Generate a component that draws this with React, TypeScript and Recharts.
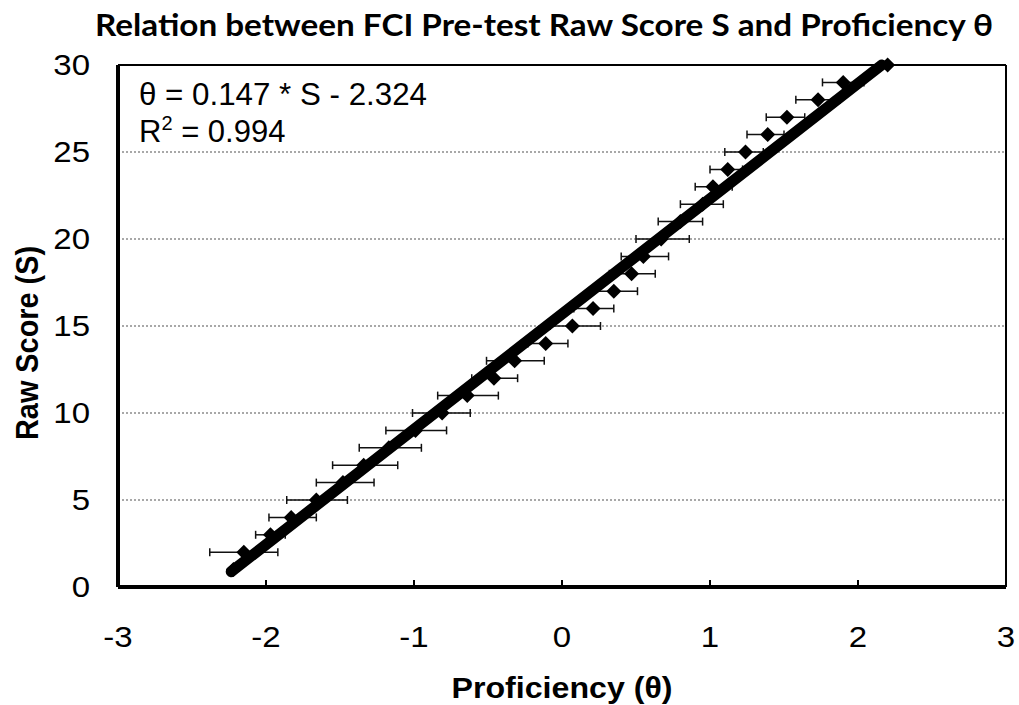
import React from 'react';
import {
  ScatterChart,
  Scatter,
  XAxis,
  YAxis,
  CartesianGrid,
  ErrorBar,
  ReferenceLine,
  Customized,
} from 'recharts';

// raw score S (y axis)
const scores = [1, 2, 3, 4, 5, 6, 7, 8, 9, 10, 11, 12, 13, 14, 15, 16, 17, 18, 19, 20, 21, 22, 23, 24, 25, 26, 27, 28, 29, 30];
// proficiency estimate for each score
const theta = [-2.22, -2.15, -1.97, -1.83, -1.66, -1.48, -1.34, -1.17, -0.99, -0.81, -0.64, -0.46, -0.32, -0.11, 0.07, 0.21, 0.35, 0.47, 0.55, 0.67, 0.8, 0.95, 1.02, 1.12, 1.24, 1.39, 1.52, 1.73, 1.9, 2.2];
// error bar ends
const thetaLow = [-2.22, -2.38, -2.07, -1.98, -1.86, -1.66, -1.55, -1.37, -1.19, -1.01, -0.84, -0.61, -0.51, -0.23, -0.08, 0.08, 0.2, 0.32, 0.4, 0.5, 0.65, 0.8, 0.9, 1.0, 1.1, 1.25, 1.38, 1.58, 1.76, 2.2];
const thetaHigh = [-2.22, -1.92, -1.87, -1.66, -1.45, -1.27, -1.11, -0.95, -0.78, -0.62, -0.43, -0.3, -0.12, 0.04, 0.26, 0.35, 0.51, 0.63, 0.72, 0.86, 0.95, 1.09, 1.15, 1.22, 1.36, 1.5, 1.64, 1.88, 2.04, 2.2];

// fitted line end points
const trendTheta = [-2.235, 2.16];
const trendScore = [0.88, 30];

const xTicks = [-3, -2, -1, 0, 1, 2, 3];
const yTicks = [0, 5, 10, 15, 20, 25, 30];
const innerTicks = [-2, -1, 0, 1, 2];

const points = scores.map((s, i) => ({
  x: theta[i],
  y: s,
  err: [theta[i] - thetaLow[i], thetaHigh[i] - theta[i]],
}));

const trend = trendTheta.map((t, i) => ({ x: t, y: trendScore[i] }));

const AXIS_FONT = '"Liberation Sans", Arial, sans-serif';

const Diamond = (props: any) => {
  const { cx, cy } = props;
  if (cx == null || cy == null) return <g />;
  const r = 7.5;
  return <path d={`M${cx},${cy - r}L${cx + r},${cy}L${cx},${cy + r}L${cx - r},${cy}Z`} fill="#000" />;
};

// the source picture is a little stretched sideways, so the labels are too
const XTick = (props: any) => {
  const { x, payload } = props;
  return (
    <text transform={`translate(${x},637) scale(1.1,1)`} textAnchor="middle" dominantBaseline="central" fontFamily={AXIS_FONT} fontSize={30} fill="#000">
      {payload.value}
    </text>
  );
};

const YTick = (props: any) => {
  const { y, payload } = props;
  return (
    <text transform={`translate(90,${y}) scale(1.1,1)`} textAnchor="end" dominantBaseline="central" fontFamily={AXIS_FONT} fontSize={30} fill="#000">
      {payload.value}
    </text>
  );
};

const Texts = () => (
  <g>
    <text x={544} y={36} textAnchor="middle" fontFamily="Lato, 'Open Sans', sans-serif" fontWeight={700} fontSize={30} textLength={898} lengthAdjust="spacingAndGlyphs" fill="#000">
      Relation between FCI Pre-test Raw Score S and Proficiency θ
    </text>
    <text x={139} y={105} fontFamily={AXIS_FONT} fontSize={31} textLength={288} lengthAdjust="spacingAndGlyphs" fill="#000">
      θ = 0.147 * S - 2.324
    </text>
    <text x={139} y={142} fontFamily={AXIS_FONT} fontSize={31} fill="#000">
      R<tspan dy={-12} fontSize={20}>2</tspan>
      <tspan dy={12}> = 0.994</tspan>
    </text>
    <text x={562} y={698} textAnchor="middle" fontFamily={AXIS_FONT} fontWeight={700} fontSize={30} textLength={221} lengthAdjust="spacingAndGlyphs" fill="#000">
      Proficiency (θ)
    </text>
    <text
      x={0}
      y={0}
      transform="translate(38,343) rotate(-90)"
      textAnchor="middle"
      fontFamily={AXIS_FONT}
      fontWeight={700}
      fontSize={31}
      textLength={194}
      lengthAdjust="spacingAndGlyphs"
      fill="#000"
    >
      Raw Score (S)
    </text>
  </g>
);

export default function App() {
  return (
    <div style={{ position: 'absolute', left: 0, top: 0, width: 1019, height: 705, background: '#fff' }}>
      <ScatterChart width={1019} height={705} margin={{ top: 65, right: 13, bottom: 58, left: 58 }}>
        <CartesianGrid vertical={false} stroke="#8c8c8c" strokeWidth={1.5} strokeDasharray="2 2" />
        <XAxis
          type="number"
          dataKey="x"
          domain={[-3, 3]}
          ticks={xTicks}
          height={60}
          axisLine={{ stroke: '#000', strokeWidth: 4 }}
          tickLine={false}
          tick={<XTick />}
          interval={0}
        />
        <YAxis
          type="number"
          dataKey="y"
          domain={[0, 30]}
          ticks={yTicks}
          width={60}
          axisLine={{ stroke: '#000', strokeWidth: 4 }}
          tickLine={false}
          tick={<YTick />}
          interval={0}
        />
        <ReferenceLine y={30} stroke="#000" strokeWidth={2} />
        <ReferenceLine x={3} stroke="#000" strokeWidth={2} />
        {innerTicks.map((t) => (
          <ReferenceLine
            key={t}
            segment={[{ x: t, y: 0 }, { x: t, y: 0.4 }]}
            stroke="#000"
            strokeWidth={2}
          />
        ))}
        <Scatter data={points} shape={<Diamond />} isAnimationActive={false} legendType="none">
          <ErrorBar dataKey="err" direction="x" width={4} stroke="#111" strokeWidth={1.5} isAnimationActive={false} />
        </Scatter>
        <Scatter
          data={trend}
          line={{ stroke: '#000', strokeWidth: 11, strokeLinecap: 'round' }}
          lineType="joint"
          shape={() => <g />}
          isAnimationActive={false}
          legendType="none"
        />
        <Customized component={Texts} />
      </ScatterChart>
    </div>
  );
}
